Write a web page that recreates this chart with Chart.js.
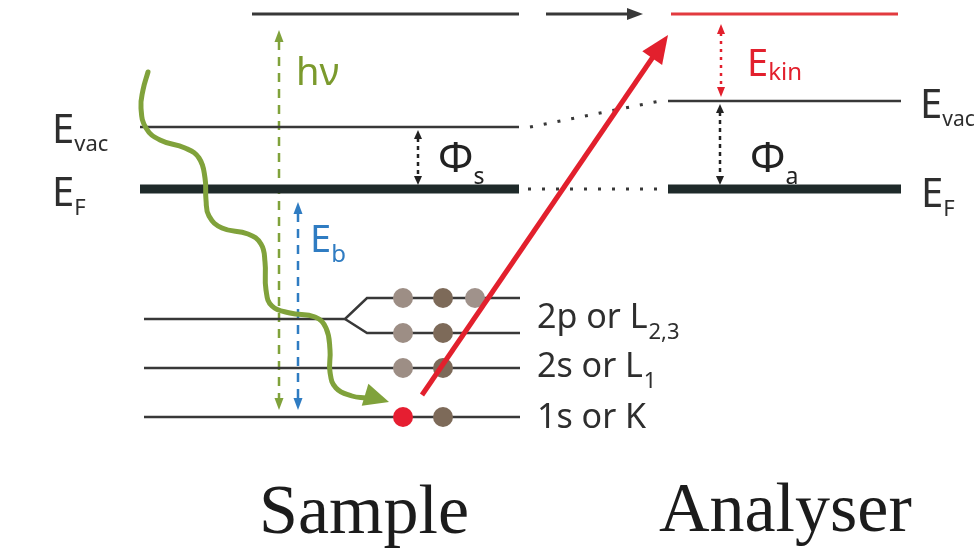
<!DOCTYPE html>
<html lang="en">
<head>
<meta charset="utf-8">
<title>Photoemission energy diagram</title>
<script src="https://cdn.jsdelivr.net/npm/chart.js@4.4.1/dist/chart.umd.min.js"></script>
<style>
  html, body { margin: 0; padding: 0; background: #ffffff; }
  #box { position: relative; width: 979px; height: 549px; }
</style>
</head>
<body>
<div id="box"><canvas id="diagram"></canvas></div>
<script>
// ---------- Energies (arbitrary units, Fermi level = 0) ----------
const fermiLevel = 0;
const photonLevel = 175;        // top of the hν arrow, also top of E_kin
const sampleVacuum = 62;        // sample E_vac (Φs above E_F)
const analyserVacuum = 88;      // analyser E_vac (Φa above E_F)

const coreLabels = ['2p or L', '2s or L', '1s or K'];
const coreSubscripts = ['2,3', '1', ''];
const coreLevels = [-130, -179, -228];
const splitLevels = [-109, -144];          // 2p spin–orbit branches

// occupied states: energy of the level and slot along it
const electronLevels = [-109, -109, -109, -144, -144, -179, -179, -228, -228];
const electronSlots  = [0, 1, 2, 0, 1, 0, 1, 0, 1];
const emittedElectron = 7;                 // the 1s electron that is ejected

// incoming photon path (horizontal position, energy)
const photonPathX = [148, 143, 141, 146, 160, 185, 199, 205, 206, 209, 222, 248, 261, 265, 266, 272, 290, 315, 326, 330, 330, 336, 352, 366];
const photonPathE = [117,  99,  81,  61,  49,  41,  31,  11, -11, -27, -39, -45, -55, -73, -101, -117, -124, -128, -139, -161, -183, -199, -207, -209];

// ---------- Layout (horizontal positions on the x scale) ----------
const LAYOUT = {
  sampleStart: 140, sampleEnd: 519,
  coreStart: 144, coreEnd: 520, forkStart: 345, forkEnd: 367,
  photonStart: 252,
  gapArrowStart: 546, gapArrowEnd: 643,
  analyserStart: 668, analyserEnd: 901, kinStart: 671, kinEnd: 898,
  dotStartS: 530, dotEnd: 660,
  slots: [403, 443, 475],
  hvX: 279, ebX: 298, phiSX: 418, phiAX: 720, ekinX: 721,
  ejectStartX: 422, ejectTipX: 668
};

const COLORS = {
  level: '#383838', fermi: '#1f2a2a', green: '#80a23b', greenText: '#7b9a2d',
  blue: '#2f7cc2', red: '#e2202d', redLine: '#e23a3f', text: '#2e2e2e',
  slotShade: ['#9d8e85', '#7d6a59', '#a0928b'], emitted: '#e61e31', title: '#1c1c1c'
};

function seg(points, color, width, extra) {
  return Object.assign({
    data: points, showLine: true, borderColor: color, borderWidth: width,
    pointRadius: 0, fill: false, tension: 0, borderCapStyle: 'butt', order: 10
  }, extra || {});
}

const datasets = [];
// sample levels
datasets.push(seg([{x: LAYOUT.photonStart, y: photonLevel}, {x: LAYOUT.sampleEnd, y: photonLevel}], COLORS.level, 3));
datasets.push(seg([{x: LAYOUT.sampleStart, y: sampleVacuum}, {x: LAYOUT.sampleEnd, y: sampleVacuum}], COLORS.level, 2.5));
datasets.push(seg([{x: LAYOUT.sampleStart, y: fermiLevel}, {x: LAYOUT.sampleEnd, y: fermiLevel}], COLORS.fermi, 9));
// core levels (2p splits into two branches)
datasets.push(seg([{x: LAYOUT.coreStart, y: coreLevels[0]}, {x: LAYOUT.forkStart, y: coreLevels[0]},
                   {x: LAYOUT.forkEnd, y: splitLevels[0]}, {x: LAYOUT.coreEnd, y: splitLevels[0]}], COLORS.level, 2.5));
datasets.push(seg([{x: LAYOUT.forkStart, y: coreLevels[0]}, {x: LAYOUT.forkEnd, y: splitLevels[1]},
                   {x: LAYOUT.coreEnd, y: splitLevels[1]}], COLORS.level, 2.5));
datasets.push(seg([{x: LAYOUT.coreStart, y: coreLevels[1]}, {x: LAYOUT.coreEnd, y: coreLevels[1]}], COLORS.level, 2.5));
datasets.push(seg([{x: LAYOUT.coreStart, y: coreLevels[2]}, {x: LAYOUT.coreEnd, y: coreLevels[2]}], COLORS.level, 2.5));
// analyser levels
datasets.push(seg([{x: LAYOUT.kinStart, y: photonLevel}, {x: LAYOUT.kinEnd, y: photonLevel}], COLORS.redLine, 3));
datasets.push(seg([{x: LAYOUT.analyserStart, y: analyserVacuum}, {x: LAYOUT.analyserEnd, y: analyserVacuum}], COLORS.level, 2.5));
datasets.push(seg([{x: LAYOUT.analyserStart, y: fermiLevel}, {x: LAYOUT.analyserEnd, y: fermiLevel}], COLORS.fermi, 9));
// dotted connectors between sample and analyser
datasets.push(seg([{x: LAYOUT.dotStartS, y: sampleVacuum}, {x: LAYOUT.dotEnd, y: analyserVacuum}], COLORS.level, 3,
                  {borderDash: [3, 11], borderCapStyle: 'butt'}));
datasets.push(seg([{x: LAYOUT.dotStartS - 2, y: fermiLevel}, {x: LAYOUT.dotEnd, y: fermiLevel}], COLORS.level, 3,
                  {borderDash: [3, 11], borderCapStyle: 'butt'}));
// photon path
datasets.push(seg(photonPathX.map((x, i) => ({x, y: photonPathE[i]})), COLORS.green, 5,
                  {tension: 0.45, borderCapStyle: 'round', borderJoinStyle: 'round', order: 3}));
// electrons
datasets.push({
  data: electronLevels.map((e, i) => ({x: LAYOUT.slots[electronSlots[i]], y: e})),
  showLine: false, pointRadius: 10, pointHoverRadius: 10, borderWidth: 0,
  pointBackgroundColor: electronLevels.map((e, i) => i === emittedElectron ? COLORS.emitted : COLORS.slotShade[electronSlots[i]]),
  order: 5
});

function head(ctx, fx, fy, tx, ty, len, wid, color) {
  const dx = tx - fx, dy = ty - fy, d = Math.hypot(dx, dy) || 1;
  const ux = dx / d, uy = dy / d;
  const bx = tx - ux * len, by = ty - uy * len;
  ctx.beginPath();
  ctx.moveTo(tx, ty);
  ctx.lineTo(bx - uy * wid / 2, by + ux * wid / 2);
  ctx.lineTo(bx + uy * wid / 2, by - ux * wid / 2);
  ctx.closePath();
  ctx.fillStyle = color;
  ctx.fill();
}

function doubleArrow(ctx, x, yTop, yBot, color, dash, width, len, wid) {
  ctx.save();
  ctx.strokeStyle = color;
  ctx.lineWidth = width;
  ctx.setLineDash(dash);
  ctx.beginPath();
  ctx.moveTo(x, yTop + len - 1);
  ctx.lineTo(x, yBot - len + 1);
  ctx.stroke();
  ctx.setLineDash([]);
  head(ctx, x, yBot, x, yTop, len, wid, color);
  head(ctx, x, yTop, x, yBot, len, wid, color);
  ctx.restore();
}

function label(ctx, main, sub, x, y, size, subSize, subDrop, color, subGap) {
  ctx.fillStyle = color;
  ctx.font = size + 'px "Noto Sans"';
  ctx.textBaseline = 'alphabetic';
  ctx.textAlign = 'left';
  ctx.fillText(main, x, y);
  if (sub) {
    const w = ctx.measureText(main).width;
    ctx.font = subSize + 'px "Noto Sans"';
    ctx.fillText(sub, x + w + (subGap || 0), y + subDrop);
  }
}

const overlay = {
  id: 'overlay',
  beforeDatasetsDraw(chart) {
    const ctx = chart.ctx, X = v => chart.scales.x.getPixelForValue(v), Y = v => chart.scales.y.getPixelForValue(v);
    // hν and E_b (dashed, double-headed)
    doubleArrow(ctx, X(LAYOUT.hvX), Y(photonLevel) + 16, Y(coreLevels[2]) - 7, COLORS.green, [9, 7], 2.5, 12, 9);
    doubleArrow(ctx, X(LAYOUT.ebX), Y(fermiLevel) + 13, Y(coreLevels[2]) - 7, COLORS.blue, [9, 7], 2.5, 12, 9);
    // work functions
    doubleArrow(ctx, X(LAYOUT.phiSX), Y(sampleVacuum) + 3, Y(fermiLevel) - 4, '#222', [4, 4], 2.5, 9, 8);
    doubleArrow(ctx, X(LAYOUT.phiAX), Y(analyserVacuum) + 3, Y(fermiLevel) - 4, '#222', [4, 4], 2.5, 9, 8);
    // kinetic energy
    doubleArrow(ctx, X(LAYOUT.ekinX), Y(photonLevel) + 10, Y(analyserVacuum) - 4, COLORS.red, [3, 5], 2.5, 10, 8);
  },
  afterDatasetsDraw(chart) {
    const ctx = chart.ctx, X = v => chart.scales.x.getPixelForValue(v), Y = v => chart.scales.y.getPixelForValue(v);
    ctx.save();
    // arrow between the two top levels
    ctx.strokeStyle = COLORS.level; ctx.lineWidth = 3;
    ctx.beginPath();
    ctx.moveTo(X(LAYOUT.gapArrowStart), Y(photonLevel));
    ctx.lineTo(X(LAYOUT.gapArrowEnd) - 12, Y(photonLevel));
    ctx.stroke();
    head(ctx, X(LAYOUT.gapArrowStart), Y(photonLevel), X(LAYOUT.gapArrowEnd), Y(photonLevel), 16, 12, COLORS.level);

    // photon arrowhead at the end of the wavy path
    const n = photonPathX.length;
    head(ctx, X(photonPathX[n - 3]), Y(photonPathE[n - 3]) - 2, X(photonPathX[n - 1]) + 23, Y(photonPathE[n - 1]) + 4, 25, 23, COLORS.green);

    // ejected photoelectron
    const sx = X(LAYOUT.ejectStartX), sy = Y(coreLevels[2]) - 22;
    const tx = X(LAYOUT.ejectTipX), ty = Y(photonLevel) + 21;
    const d = Math.hypot(tx - sx, ty - sy), ux = (tx - sx) / d, uy = (ty - sy) / d;
    ctx.strokeStyle = COLORS.red; ctx.lineWidth = 5; ctx.lineCap = 'butt';
    ctx.beginPath();
    ctx.moveTo(sx, sy);
    ctx.lineTo(tx - ux * 20, ty - uy * 20);
    ctx.stroke();
    head(ctx, sx, sy, tx, ty, 28, 24, COLORS.red);

    // labels
    label(ctx, 'E', 'vac', X(52), Y(sampleVacuum) + 16, 40, 22, 8, COLORS.text);
    label(ctx, 'E', 'F', X(52), Y(fermiLevel) + 17, 40, 22, 9, COLORS.text);
    label(ctx, 'E', 'vac', X(920), Y(analyserVacuum) + 17, 40, 21, 8, COLORS.text);
    label(ctx, 'E', 'F', X(921), Y(fermiLevel) + 18, 40, 22, 9, COLORS.text);
    label(ctx, 'Φ', 's', X(438), Y(sampleVacuum) + 45, 42, 23, 12, '#222');
    label(ctx, 'Φ', 'a', X(750), Y(sampleVacuum) + 45, 42, 23, 12, '#222');
    label(ctx, 'hν', '', X(296), Y(photonLevel) + 71, 38, 0, 0, COLORS.greenText);
    label(ctx, 'E', 'b', X(310), Y(fermiLevel) + 63, 38, 24, 10, COLORS.blue);
    label(ctx, 'E', 'kin', X(747), Y(photonLevel) + 62, 38, 24, 4, COLORS.red);
    const levelY = [splitLevels[0] - 21, coreLevels[1], coreLevels[2]];
    coreLabels.forEach((t, i) => {
      label(ctx, t, coreSubscripts[i], X(537), Y(levelY[i]) + 9 + (i === 2 ? 2 : 0), 34, 22, 11, COLORS.text, 1);
    });

    // panel titles
    ctx.fillStyle = COLORS.title;
    ctx.font = '70px "Liberation Serif"';
    ctx.textAlign = 'left';
    ctx.fillText('Sample', X(259), Y(coreLevels[2]) + 116);
    ctx.fillText('Analyser', X(659), Y(coreLevels[2]) + 114);
    ctx.restore();
  }
};

new Chart(document.getElementById('diagram'), {
  type: 'scatter',
  data: { datasets },
  options: {
    responsive: true, maintainAspectRatio: false, animation: false,
    events: [],
    layout: { padding: 0, autoPadding: false },
    plugins: { legend: { display: false }, tooltip: { enabled: false } },
    scales: {
      x: { type: 'linear', min: 0, max: 979, display: false },
      y: { type: 'linear', min: -360, max: 189, display: false }
    }
  },
  plugins: [overlay]
});
</script>
</body>
</html>
